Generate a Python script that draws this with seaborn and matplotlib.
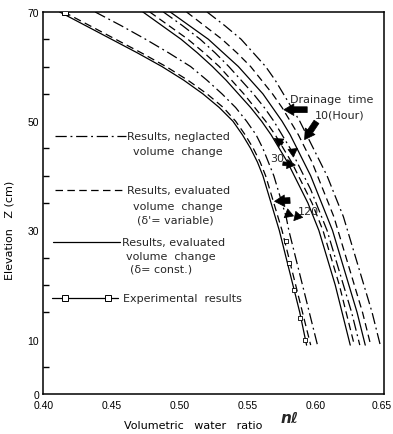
import numpy as np
import pandas as pd
import matplotlib
matplotlib.use("Agg")
import matplotlib.pyplot as plt
import matplotlib.transforms as mtransforms
import seaborn as sns
from matplotlib.lines import Line2D

sns.set_theme(style="white")
plt.rcParams['font.family'] = ['DejaVu Sans']

# ---------------- data ----------------
z_levels = [70, 67.5, 65, 62.5, 60, 57.5, 55, 52.5, 50, 47.5, 45, 42.5, 40,
            37.5, 35, 32.5, 30, 25, 20, 15, 9]

# 120 hour curves
x120_const = [0.412, 0.431, 0.450, 0.469, 0.487, 0.503, 0.517, 0.529, 0.539, 0.546, 0.552,
              0.557, 0.561, 0.564, 0.567, 0.570, 0.573, 0.578, 0.583, 0.588, 0.593]
x120_var = [0.415, 0.434, 0.453, 0.472, 0.490, 0.506, 0.520, 0.532, 0.541, 0.548, 0.554,
            0.559, 0.563, 0.566, 0.569, 0.572, 0.575, 0.580, 0.585, 0.590, 0.596]
x120_negl = [0.438, 0.457, 0.475, 0.492, 0.508, 0.520, 0.531, 0.541, 0.549, 0.556, 0.561,
             0.565, 0.569, 0.572, 0.575, 0.578, 0.580, 0.585, 0.590, 0.595, 0.601]
# 30 hour curves
x30_const = [0.473, 0.487, 0.501, 0.513, 0.524, 0.534, 0.543, 0.552, 0.560, 0.567, 0.573,
             0.579, 0.584, 0.589, 0.594, 0.598, 0.602, 0.608, 0.614, 0.619, 0.625]
x30_var = [0.478, 0.492, 0.506, 0.518, 0.529, 0.538, 0.547, 0.555, 0.563, 0.570, 0.576,
           0.582, 0.587, 0.592, 0.597, 0.601, 0.605, 0.611, 0.617, 0.622, 0.628]
x30_negl = [0.488, 0.502, 0.515, 0.526, 0.536, 0.545, 0.554, 0.562, 0.569, 0.575, 0.581,
            0.586, 0.591, 0.596, 0.600, 0.604, 0.608, 0.614, 0.620, 0.626, 0.632]
# 10 hour curves
x10_const = [0.493, 0.507, 0.521, 0.532, 0.543, 0.552, 0.561, 0.568, 0.575, 0.581, 0.586,
             0.591, 0.596, 0.600, 0.604, 0.608, 0.612, 0.618, 0.624, 0.630, 0.636]
x10_var = [0.505, 0.518, 0.531, 0.542, 0.552, 0.560, 0.568, 0.575, 0.581, 0.587, 0.592,
           0.597, 0.601, 0.605, 0.609, 0.613, 0.616, 0.622, 0.628, 0.634, 0.640]
x10_negl = [0.520, 0.533, 0.545, 0.554, 0.563, 0.570, 0.576, 0.582, 0.588, 0.593, 0.598,
            0.603, 0.608, 0.612, 0.616, 0.620, 0.623, 0.629, 0.635, 0.641, 0.647]

# experimental results (120 h)
exp_z = [70, 28, 24, 19, 14, 10]
exp_x = [0.416, 0.578, 0.580, 0.584, 0.588, 0.592]

x_ticks = [0.40, 0.45, 0.50, 0.55, 0.60, 0.65]
x_tick_labels = ["0.40", "0.45", "0.50", "0.55", "0.60", "0.65"]
y_ticks = [0, 10, 30, 50, 70]
y_tick_labels = ["0", "10", "30", "50", "70"]

curves = {
    ("120", "const"): x120_const, ("120", "var"): x120_var, ("120", "negl"): x120_negl,
    ("30", "const"): x30_const, ("30", "var"): x30_var, ("30", "negl"): x30_negl,
    ("10", "const"): x10_const, ("10", "var"): x10_var, ("10", "negl"): x10_negl,
}

DASHDOT = (0, (9, 3, 1.5, 3))
DASHED = (0, (6, 3.5))
SOLID = "-"
styles = {"const": SOLID, "var": DASHED, "negl": DASHDOT}

# ---------------- figure ----------------
fig = plt.figure(figsize=(3.93, 4.35), dpi=100)
ax = fig.add_axes([0.110, 0.0913, 0.868, 0.879])

for (t, m), xs in curves.items():
    df = pd.DataFrame({"x": xs, "z": z_levels})
    sns.lineplot(data=df, x="x", y="z", ax=ax, color="black", sort=False,
                 estimator=None, linewidth=0.9, linestyle=styles[m])

sns.scatterplot(x=exp_x[:1], y=exp_z[:1], ax=ax, marker="s", s=16, facecolor="white",
                edgecolor="black", linewidth=0.7, zorder=5)
sns.scatterplot(x=exp_x[1:], y=exp_z[1:], ax=ax, marker="s", s=6, facecolor="white",
                edgecolor="black", linewidth=0.6, zorder=5)

ax.set_xlim(0.40, 0.65)
ax.set_ylim(0, 70)
ax.set_xticks(x_ticks)
ax.set_xticklabels(x_tick_labels, family=["Liberation Sans", "DejaVu Sans"])
ax.set_yticks(y_ticks)
ax.set_yticklabels(y_tick_labels, family=["Liberation Sans", "DejaVu Sans"])
ax.set_yticks([5, 15, 20, 25, 35, 40, 45, 55, 60, 65], minor=True)
ax.tick_params(axis="both", which="major", direction="in", length=12, width=1.0,
               color="black", labelsize=7.5, labelcolor="black", pad=3)
ax.tick_params(axis="y", which="minor", direction="in", length=4, width=1.0,
               color="black", left=True)
ax.tick_params(axis="x", which="major", pad=4)
for i in (0, len(x_ticks) - 1):
    ax.xaxis.get_major_ticks()[i].tick1line.set_visible(False)
last = ax.get_xticklabels()[-1]
last.set_transform(last.get_transform() +
                   mtransforms.ScaledTranslation(-0.03, 0, fig.dpi_scale_trans))
for sp in ax.spines.values():
    sp.set_visible(True)
    sp.set_color("black")
    sp.set_linewidth(1.1)
ax.grid(False)

ax.set_ylabel("Elevation   Z (cm)", fontsize=8, color="black", labelpad=2)
ax.yaxis.set_label_coords(-0.085, 0.43)
ax.set_xlabel("Volumetric   water   ratio", fontsize=8, color="black")
ax.xaxis.set_label_coords(0.44, -0.068)
ax.text(0.695, -0.062, "nℓ", transform=ax.transAxes, fontsize=11,
        fontstyle="italic", fontweight="bold", ha="left", va="center")

# ---------------- legend (hand placed) ----------------
fs = 8
tr = ax.transAxes
def sample(x0, x1, y, ls):
    ax.add_line(Line2D([x0, x1], [y, y], transform=tr, color="black",
                       linewidth=0.9, linestyle=ls))

sample(0.034, 0.243, 0.676, DASHDOT)
ax.text(0.246, 0.676, "Results, neglacted", transform=tr, fontsize=fs, va="center")
ax.text(0.263, 0.636, "volume  change", transform=tr, fontsize=fs, va="center")

sample(0.034, 0.243, 0.535, DASHED)
ax.text(0.246, 0.535, "Results, evaluated", transform=tr, fontsize=fs, va="center")
ax.text(0.263, 0.492, "volume  change", transform=tr, fontsize=fs, va="center")
ax.text(0.275, 0.458, "(δ'= variable)", transform=tr, fontsize=fs, va="center")

sample(0.028, 0.225, 0.399, SOLID)
ax.text(0.231, 0.399, "Results, evaluated", transform=tr, fontsize=fs, va="center")
ax.text(0.243, 0.362, "volume  change", transform=tr, fontsize=fs, va="center")
ax.text(0.254, 0.328, "(δ= const.)", transform=tr, fontsize=fs, va="center")

sample(0.026, 0.219, 0.252, SOLID)
ax.add_line(Line2D([0.064, 0.190], [0.252, 0.252], transform=tr, linestyle="none",
                   marker="s", markersize=4, markerfacecolor="white",
                   markeredgecolor="black", markeredgewidth=0.7))
ax.text(0.234, 0.252, "Experimental  results", transform=tr, fontsize=fs, va="center")

# ---------------- drainage time annotations ----------------
ax.text(0.723, 0.772, "Drainage  time", transform=tr, fontsize=fs, va="center")
ax.text(0.797, 0.733, "10(Hour)", transform=tr, fontsize=fs, va="center")
ax.text(0.665, 0.618, "30", transform=tr, fontsize=fs, va="center")
ax.text(0.745, 0.480, "120", transform=tr, fontsize=fs, va="center")

arrow_big = dict(arrowstyle="simple,head_width=0.7,head_length=0.6,tail_width=0.35",
                 fc="black", ec="black", lw=0.5)
arrow_small = dict(arrowstyle="simple,head_width=0.55,head_length=0.5,tail_width=0.22",
                   fc="black", ec="black", lw=0.5)
arrows = [
    ((0.5955, 52.1), (0.5743, 52.1), arrow_big),
    ((0.6014, 50.3), (0.5904, 46.2), arrow_big),
    ((0.5771, 45.6), (0.5676, 47.1), arrow_small),
    ((0.5800, 43.9), (0.5880, 45.3), arrow_small),
    ((0.5736, 42.3), (0.5868, 41.9), arrow_small),
    ((0.5829, 35.5), (0.5675, 35.3), arrow_big),
    ((0.5823, 33.5), (0.5750, 32.0), arrow_small),
    ((0.5882, 33.1), (0.5823, 31.4), arrow_small),
]
for tail, head, props in arrows:
    ax.annotate("", xy=head, xytext=tail, arrowprops=props)

fig.savefig("out.png", dpi=100)
